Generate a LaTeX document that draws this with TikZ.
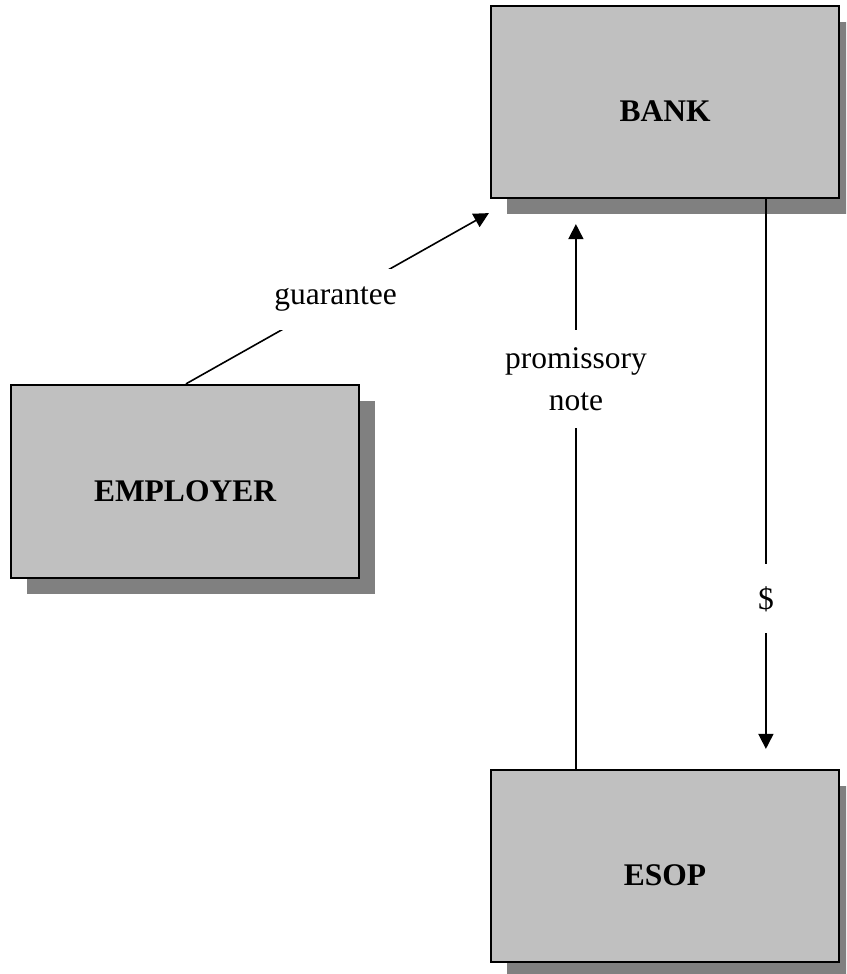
\documentclass[tikz,border=0pt]{standalone}
\usepackage{fontspec}
\setmainfont{Liberation Serif}
\usetikzlibrary{shadows,arrows.meta,calc}
\definecolor{boxgray}{RGB}{192,192,192}
\definecolor{shgray}{RGB}{128,128,128}
\tikzset{
  entity/.style={draw=black, line width=2.2pt, fill=boxgray,
    minimum width=348pt, minimum height=192pt, inner sep=0pt,
    font=\fontsize{31.5}{38}\selectfont\bfseries,
    text height=39pt, text depth=0pt,
    drop shadow={shadow xshift=16pt, shadow yshift=-16pt, fill=shgray, opacity=1}},
  flow/.style={line width=1.6pt, -{Triangle[length=15pt,width=15pt]}},
  flowlabel/.style={fill=white, inner xsep=3pt, inner ysep=0pt,
    font=\fontsize{31.5}{42}\selectfont, align=center}
}
\begin{document}
\begin{tikzpicture}[x=1pt,y=-1pt]
\useasboundingbox (0,0) rectangle (846,974);
\clip (0,0) rectangle (846,974);
\node[entity] (bank) at (665,102) {BANK};
\node[entity, minimum height=193pt] (emp) at (185,481.5) {EMPLOYER};
\node[entity] (esop) at (665,866) {ESOP};
\coordinate (gtip) at ($(bank.south west)+(-1,14)$);
\draw[flow] ($(emp.north west)+(176,0)$) -- (gtip)
  node[flowlabel, pos=0.494, minimum height=61pt] (glab) {guarantee};
\coordinate (ptip) at ($(bank.south west)+(86,25)$);
\draw[flow] ($(esop.north west)+(86,0)$) -- (ptip)
  node[flowlabel, pos=0.715, minimum height=98pt] (plab) {promissory\\note};
\coordinate (dtip) at ($(esop.north west)+(276,-20)$);
\draw[flow] ($(bank.south west)+(276,0)$) -- (dtip)
  node[flowlabel, pos=0.727, minimum height=69pt] (dlab) {\$};
\end{tikzpicture}
\end{document}
